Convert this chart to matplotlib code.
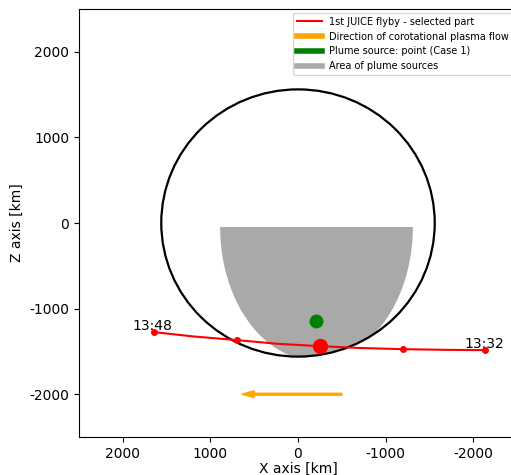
import numpy as np
import matplotlib
matplotlib.use('Agg')
import matplotlib.pyplot as plt
from matplotlib.lines import Line2D
from matplotlib.patches import Polygon, Circle

plt.rcParams['axes.unicode_minus'] = False

# Europa disk
europa_radius = 1560.8

# flyby track (x, z) in km
track_x = [1642, 1200, 696, 250, -251, -700, -1197, -1700, -2132]
track_z = [-1275, -1325, -1368, -1410, -1439, -1460, -1474, -1482, -1485]
# time-marker points
marker_x = [1642, 696, -1197, -2132]
marker_z = [-1275, -1368, -1474, -1485]
marker_labels = ['13:48', '13:32']
label_x = [1890, -1905]
label_z = [-1255, -1465]
closest_x, closest_z = -251, -1439

# plume source
plume_x, plume_z = -205, -1146

# area of plume sources: lower half-ellipse clipped by disk
area_cx, area_cz = -211, -47
area_a, area_b = 1100, 1560

# plasma flow arrow
flow_x0, flow_z0, flow_dx = -500, -2000, 1000

fig = plt.figure(figsize=(5.11, 4.75), dpi=100)
ax = fig.add_axes([79 / 511, 38 / 475, 438 / 511, 428 / 475])

# grey area
t = np.linspace(np.pi, 2 * np.pi, 300)
ex = area_cx + area_a * np.cos(t)
ez = area_cz + area_b * np.sin(t)
r = np.hypot(ex, ez)
scale = np.minimum(1.0, europa_radius / r)
ex, ez = ex * scale, ez * scale
ax.add_patch(Polygon(np.column_stack([ex, ez]), closed=True,
                     facecolor='darkgray', edgecolor='none', zorder=1))

ax.add_patch(Circle((0, 0), europa_radius, fill=False, edgecolor='k', lw=1.6, zorder=2))

ax.plot(track_x, track_z, color='red', lw=1.5, zorder=3)
ax.plot(marker_x, marker_z, 'o', color='red', ms=4, zorder=4)
ax.plot(closest_x, closest_z, 'o', color='red', ms=10, zorder=5)
ax.plot(plume_x, plume_z, 'o', color='green', ms=9, zorder=5)

for lab, lx, lz in zip(marker_labels, label_x, label_z):
    ax.text(lx, lz, lab, fontsize=10)

ax.arrow(flow_x0, flow_z0, flow_dx, 0, width=22, head_width=80, head_length=140,
         color='orange', length_includes_head=False, zorder=3)

ax.set_xlim(2500, -2500)
ax.set_ylim(-2500, 2500)
ax.set_xticks([2000, 1000, 0, -1000, -2000])
ax.set_yticks([2000, 1000, 0, -1000, -2000])
ax.tick_params(labelsize=10)
ax.set_xlabel('X axis [km]', fontsize=10, labelpad=1)
ax.set_ylabel('Z axis [km]', fontsize=10)

handles = [
    Line2D([], [], color='red', lw=1.5),
    Line2D([], [], color='orange', lw=4),
    Line2D([], [], color='green', lw=4),
    Line2D([], [], color='darkgray', lw=4),
]
labels = ['1st JUICE flyby - selected part', 'Direction of corotational plasma flow',
          'Plume source: point (Case 1)', 'Area of plume sources']
ax.legend(handles, labels, loc='upper right', fontsize=7, handlelength=2.5,
          borderaxespad=0.4)

fig.savefig('out.png', dpi=100)
